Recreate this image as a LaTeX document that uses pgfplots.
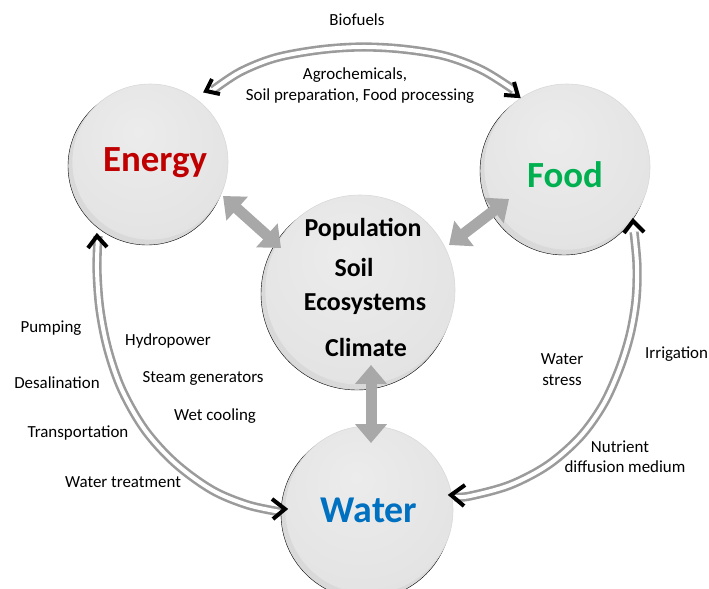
\documentclass[border=0pt]{standalone}
\usepackage{pgfplots}
\pgfplotsset{compat=1.18}
\usepackage{pgfplotstable}
\usetikzlibrary{arrows.meta}
\usepackage{fontspec}
\setmainfont{Carlito}
\definecolor{enred}{RGB}{192,0,0}
\definecolor{fdgreen}{RGB}{0,176,80}
\definecolor{wtblue}{RGB}{0,112,192}
\definecolor{arcgray}{RGB}{155,155,155}
\definecolor{arrgray}{RGB}{168,168,168}
\definecolor{sA}{RGB}{236,236,236}
\definecolor{sB}{RGB}{228,228,228}
\definecolor{sC}{RGB}{219,219,219}
\definecolor{sD}{RGB}{205,205,205}
\definecolor{sE}{RGB}{185,185,185}
\pgfdeclareradialshading{sphereshade}{\pgfpoint{-4bp}{10bp}}{color(0bp)=(sA); color(28bp)=(sB); color(46bp)=(sC); color(56bp)=(sD); color(64bp)=(sE)}
\pgfdeclareplotmark{sphere}{\pgfpathcircle{\pgfpointorigin}{\pgfplotmarksize}\pgfshadepath{sphereshade}{0}\pgfpathcircle{\pgfpointorigin}{\pgfplotmarksize}\pgfusepathqstroke}

% arcs (pixel coordinates, y downwards)
\pgfplotstableread{
x y
213 90
240 72
275 58
318 50
360 47
402 49
445 56
482 70
514 90
}\toparc
\pgfplotstableread{
x y
98 236
97 270
100 310
108 350
122 390
145 430
175 463
212 490
248 505
281 512
}\leftarc
\pgfplotstableread{
x y
634 232
637 265
636 300
630 335
619 370
603 405
580 437
548 465
510 485
470 496
455 497
}\rightarc

\pgfplotsset{diag/.style={width=709bp, height=589bp, scale only axis,
  xmin=0, xmax=709, ymin=0, ymax=589, y dir=reverse,
  hide axis, clip=false, at={(0,0)}, anchor=origin}}
\newcommand{\lab}[3]{\node[font=\fontsize{17}{20}\selectfont, inner sep=0pt] at (axis cs:#1,#2) {#3};}
\begin{document}
\begin{tikzpicture}
\begin{axis}[diag]
% double-lined arcs
\addplot[smooth, tension=0.55, draw=arcgray, double=white, double distance=4bp, line width=2.6bp] table {\toparc};
\addplot[smooth, tension=0.55, draw=arcgray, double=white, double distance=4bp, line width=2.6bp] table {\leftarc};
\addplot[smooth, tension=0.55, draw=arcgray, double=white, double distance=4bp, line width=2.6bp] table {\rightarc};
% shadows
\addplot[only marks, mark=*, mark size=79bp, mark options={draw=none, fill=black, fill opacity=0.15}] coordinates {(147,166)};
\addplot[only marks, mark=*, mark size=84bp, mark options={draw=none, fill=black, fill opacity=0.15}] coordinates {(564,171)};
\addplot[only marks, mark=*, mark size=96bp, mark options={draw=none, fill=black, fill opacity=0.15}] coordinates {(357,294)};
\addplot[only marks, mark=*, mark size=85bp, mark options={draw=none, fill=black, fill opacity=0.15}] coordinates {(366,514)};
% spheres
\addplot[only marks, mark=sphere, mark size=78bp, mark options={draw=white!85!black, line width=0.6bp}] coordinates {(150,162)};
\addplot[only marks, mark=sphere, mark size=83bp, mark options={draw=white!85!black, line width=0.6bp}] coordinates {(567,167)};
\addplot[only marks, mark=sphere, mark size=95bp, mark options={draw=white!85!black, line width=0.6bp}] coordinates {(360,290)};
\addplot[only marks, mark=sphere, mark size=84bp, mark options={draw=white!85!black, line width=0.6bp}] coordinates {(369,510)};
\end{axis}
\begin{axis}[diag]
% chevrons
\addplot[black, line width=4bp] coordinates {(212,79) (206,91) (220,94)};
\addplot[black, line width=4bp] coordinates {(504,95) (518,96) (514,82)};
\addplot[black, line width=4bp] coordinates {(88,248) (97,236) (107,247)};
\addplot[black, line width=4bp] coordinates {(272,499) (285,509) (273,519)};
\addplot[black, line width=4bp] coordinates {(465,485) (451,495) (464,506)};
\addplot[black, line width=4bp] coordinates {(624,233) (633,221) (644,232)};
% thick grey arrows
\addplot[draw=arrgray, line width=11bp, {Triangle[width=31bp,length=19bp]}-{Triangle[width=31bp,length=19bp]}] coordinates {(223,196) (281,248)};
\addplot[draw=arrgray, line width=11bp, {Triangle[width=31bp,length=19bp]}-{Triangle[width=31bp,length=19bp]}] coordinates {(509,199) (449,245)};
\addplot[draw=arrgray, line width=11bp, {Triangle[width=31bp,length=19bp]}-{Triangle[width=31bp,length=19bp]}] coordinates {(371,365) (371,443)};
% main labels
\node[font=\fontsize{37}{42}\selectfont\bfseries, text=enred] at (axis cs:155,163) {Energy};
\node[font=\fontsize{37}{42}\selectfont\bfseries, text=fdgreen] at (axis cs:565,175) {Food};
\node[font=\fontsize{38}{42}\selectfont\bfseries, text=wtblue] at (axis cs:369,510) {Water};
\node[font=\fontsize{26}{30}\selectfont\bfseries] at (axis cs:363,229) {Population};
\node[font=\fontsize{26}{30}\selectfont\bfseries] at (axis cs:354,267) {Soil};
\node[font=\fontsize{26}{30}\selectfont\bfseries] at (axis cs:365,304) {Ecosystems};
\node[font=\fontsize{26}{30}\selectfont\bfseries] at (axis cs:366,347) {Climate};
% small labels
\lab{357}{20}{Biofuels}
\lab{355}{75}{Agrochemicals,}
\lab{360}{96}{Soil preparation, Food processing}
\lab{51}{328}{Pumping}
\lab{57}{383}{Desalination}
\lab{78}{433}{Transportation}
\lab{123}{482}{Water treatment}
\lab{168}{341}{Hydropower}
\lab{203}{378}{Steam generators}
\lab{215}{416}{Wet cooling}
\lab{562}{359}{Water}
\lab{562}{380}{stress}
\node[font=\fontsize{17}{20}\selectfont, inner sep=0pt, anchor=west] at (axis cs:645,354) {Irrigation};
\lab{620}{447}{Nutrient}
\lab{625}{467}{diffusion medium}
\coordinate (BL) at (axis cs:0,589);
\coordinate (TR) at (axis cs:709,0);
\end{axis}
\pgfresetboundingbox
\useasboundingbox (BL) rectangle (TR);
\end{tikzpicture}
\end{document}
